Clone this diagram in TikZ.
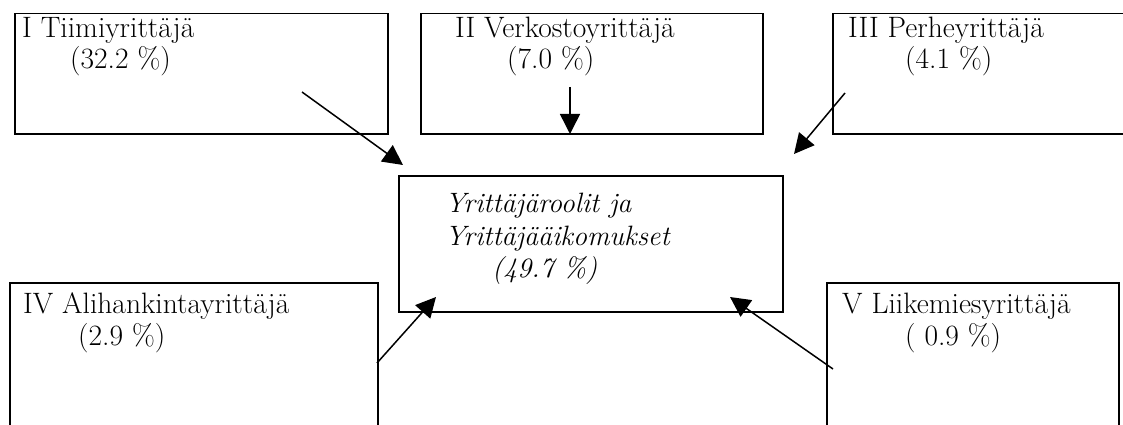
\documentclass[tikz,border=0pt]{standalone}
\usetikzlibrary{arrows.meta}
\begin{document}
\begin{tikzpicture}[x=1pt,y=-1pt,
  box/.style={draw=black, line width=1.5pt, rectangle, inner sep=0pt},
  lbl/.style={anchor=base west, inner sep=0pt, font=\fontsize{29.5}{34}\selectfont},
  ilbl/.style={anchor=base west, inner sep=0pt, font=\fontsize{28}{32}\selectfont\itshape},
  conn/.style={draw=black, line width=1.5pt, -{Triangle[length=20pt,width=20pt]}}]
\useasboundingbox (0,0) rectangle (1123,425);
\clip (0,0) rectangle (1123,425);
% boxes
\node[box, anchor=north west, minimum width=373pt, minimum height=120pt] (b1) at (14,13) {};
\node[box, anchor=north west, minimum width=342pt, minimum height=120pt] (b2) at (420,13) {};
\node[box, anchor=north west, minimum width=320pt, minimum height=120pt] (b3) at (832,13) {};
\node[box, anchor=north west, minimum width=384pt, minimum height=136pt] (c) at (398,175) {};
\node[box, anchor=north west, minimum width=368pt, minimum height=170pt] (b4) at (9,282) {};
\node[box, anchor=north west, minimum width=292pt, minimum height=170pt] (b5) at (826,282) {};
% texts
\node[lbl] (t1a) at (22,38) {I Tiimiyrittäjä};
\node[lbl] (t1b) at (70,69) {(32.2 \%)};
\node[lbl] (t2a) at (455,38) {II Verkostoyrittäjä};
\node[lbl] (t2b) at (507,69) {(7.0 \%)};
\node[lbl] (t3a) at (848,38) {III Perheyrittäjä};
\node[lbl] (t3b) at (905,69) {(4.1 \%)};
\node[ilbl] (tca) at (445,212) {Yrittäjäroolit ja};
\node[ilbl] (tcb) at (445,245) {Yrittäjääikomukset};
\node[ilbl] (tcc) at (492,277) {(49.7 \%)};
\node[lbl] (t4a) at (23,313) {IV Alihankintayrittäjä};
\node[lbl] (t4b) at (78,345) {(2.9 \%)};
\node[lbl] (t5a) at (842,313) {V Liikemiesyrittäjä};
\node[lbl] (t5b) at (905,345) {( 0.9 \%)};
% connector ends
\coordinate (s1) at (302,92);
\coordinate (e1) at (403,165);
\coordinate (s2) at (570,87);
\coordinate (e2) at (570,134);
\coordinate (s3) at (845,93);
\coordinate (e3) at (794,154);
\coordinate (s4) at (377,363);
\coordinate (e4) at (436,297);
\coordinate (s5) at (833,369);
\coordinate (e5) at (730,297);
\draw[conn] (s1) -- (e1);
\draw[conn] (s2) -- (e2);
\draw[conn] (s3) -- (e3);
\draw[conn] (s4) -- (e4);
\draw[conn] (s5) -- (e5);
\end{tikzpicture}
\end{document}
